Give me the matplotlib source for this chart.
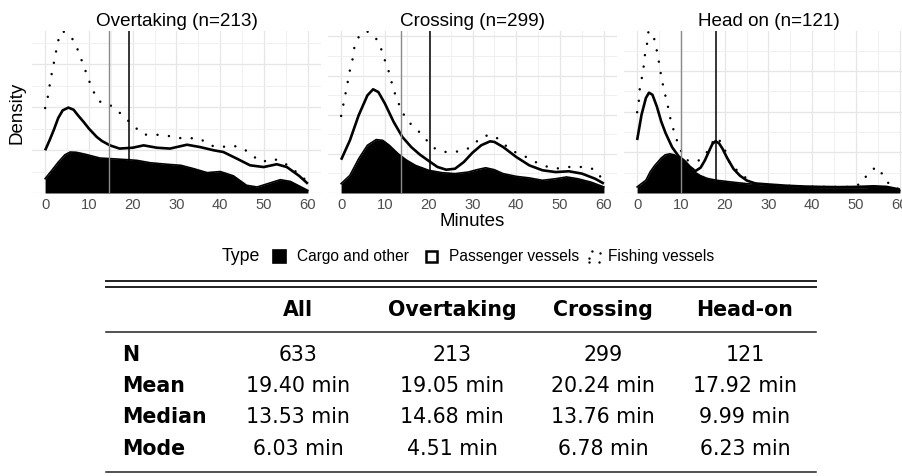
import numpy as np
import matplotlib
matplotlib.use("Agg")
import matplotlib.pyplot as plt
from matplotlib.patches import Rectangle

# ---------------- data (stacked density tops, arbitrary grid units) ----------------
panel_titles = ["Overtaking (n=213)", "Crossing (n=299)", "Head on (n=121)"]
x_ticks = [0, 10, 20, 30, 40, 50, 60]

# Overtaking
ot_cargo_x = [0, 1.5, 3, 4.5, 5.7, 7, 8, 9.5, 12.5, 15, 19, 21, 24, 27.8, 31, 34, 37, 40, 43, 46, 48.4, 50.6, 53.7, 56, 60]
ot_cargo_y = [0.67, 1.05, 1.44, 1.78, 1.91, 1.90, 1.86, 1.79, 1.63, 1.60, 1.55, 1.52, 1.41, 1.34, 1.29, 1.13, 0.95, 1.00, 0.80, 0.36, 0.28, 0.42, 0.62, 0.54, 0.12]
ot_pass_x = [0, 1, 2, 3, 4, 5.3, 6.5, 7.5, 8.8, 10, 11.8, 13, 14.8, 17, 20, 22.5, 25.5, 28.5, 32.4, 35.4, 38.5, 40.7, 43.8, 46.8, 49.9, 52.9, 55.2, 58, 60]
ot_pass_y = [1.99, 2.45, 2.95, 3.50, 3.85, 3.98, 3.88, 3.62, 3.31, 3.00, 2.61, 2.42, 2.22, 2.07, 2.11, 2.22, 2.11, 2.07, 2.25, 2.14, 1.99, 1.91, 1.60, 1.29, 1.21, 1.34, 1.21, 0.80, 0.43]
ot_fish_x = [0, 0.6, 1, 1.5, 2, 2.5, 3, 4, 6, 7.3, 8.2, 9.1, 10, 11, 12.3, 14.5, 16.7, 18.7, 20.5, 22.5, 25, 27.5, 30.3, 32.8, 35.4, 37.6, 40, 42.7, 45.3, 47.5, 49.6, 51.7, 54, 56.4, 58.5, 60]
ot_fish_y = [3.96, 4.47, 4.98, 5.56, 6.07, 6.60, 7.11, 7.55, 7.27, 6.75, 6.26, 5.76, 5.25, 4.74, 4.27, 4.15, 3.80, 3.42, 3.07, 2.72, 2.72, 2.69, 2.56, 2.56, 2.53, 2.22, 2.13, 2.22, 2.07, 1.71, 1.44, 1.60, 1.49, 1.13, 0.80, 0.50]

# Crossing
cr_cargo_x = [0, 2, 4, 6, 8, 9.5, 11, 13, 15, 17, 20, 23, 26, 29, 31, 33, 35, 37, 40, 43, 46, 49, 51.5, 54, 57, 60]
cr_cargo_y = [0.48, 0.90, 1.75, 2.44, 2.73, 2.69, 2.44, 2.01, 1.67, 1.41, 1.16, 1.04, 0.99, 1.07, 1.19, 1.29, 1.19, 0.99, 0.85, 0.77, 0.65, 0.73, 0.82, 0.73, 0.56, 0.31]
cr_pass_x = [0, 2, 4, 6, 7.3, 8.5, 10, 12, 14, 16, 18, 20, 22, 24, 26, 28, 30, 32, 34, 35, 37, 40, 43, 46, 49, 52, 55, 58, 60]
cr_pass_y = [1.70, 2.69, 3.97, 4.99, 5.30, 5.16, 4.57, 3.63, 2.86, 2.35, 1.96, 1.64, 1.33, 1.19, 1.24, 1.58, 2.06, 2.44, 2.64, 2.61, 2.35, 1.84, 1.41, 1.16, 1.07, 1.11, 0.99, 0.73, 0.48]
cr_fish_x = [0, 0.5, 1, 1.5, 2, 2.6, 3, 4, 5.8, 7.8, 9, 9.8, 10.7, 11.4, 12.1, 13, 14, 15.6, 17.5, 19.2, 21, 23.3, 26, 28.6, 30.6, 32.7, 35, 37, 39.3, 41.5, 44, 46.5, 49, 51.3, 53.5, 56, 58, 60]
cr_fish_y = [3.94, 4.51, 5.08, 5.67, 6.27, 6.83, 7.41, 7.97, 8.28, 7.97, 7.46, 6.90, 6.35, 5.76, 5.20, 4.65, 4.11, 3.59, 3.20, 2.78, 2.32, 2.10, 2.10, 2.21, 2.57, 2.93, 2.93, 2.52, 2.13, 1.93, 1.62, 1.38, 1.24, 1.33, 1.33, 1.33, 1.19, 0.60]

# Head on
ho_cargo_x = [0, 2, 3, 4, 5.5, 6.4, 7.5, 8.5, 9.8, 11, 12.1, 13, 14.4, 16, 18, 20, 22, 25, 28, 32, 36, 40, 44, 48, 52, 55, 58, 60]
ho_cargo_y = [0.30, 0.63, 1.05, 1.35, 1.72, 1.88, 1.93, 1.88, 1.69, 1.45, 1.22, 1.05, 0.86, 0.72, 0.63, 0.58, 0.53, 0.46, 0.41, 0.36, 0.31, 0.27, 0.25, 0.25, 0.26, 0.30, 0.25, 0.13]
ho_pass_x = [0, 1, 2, 2.7, 3.5, 4.5, 5.5, 6.5, 8, 9.5, 10.7, 12, 13.3, 14.5, 15.5, 16.5, 17.2, 17.9, 18.7, 19.5, 20.5, 22, 23.5, 25.1, 27, 30, 34, 38, 42, 46, 50, 54, 57, 60]
ho_pass_y = [2.61, 3.85, 4.68, 4.94, 4.84, 4.26, 3.52, 2.95, 2.25, 1.80, 1.60, 1.30, 1.08, 1.25, 1.62, 2.10, 2.42, 2.55, 2.45, 2.18, 1.75, 1.19, 0.85, 0.61, 0.47, 0.42, 0.36, 0.32, 0.30, 0.29, 0.30, 0.33, 0.30, 0.17]
ho_fish_x = [0, 0.4, 0.6, 1.1, 1.5, 1.8, 2.3, 2.6, 3.8, 4.4, 4.9, 5.3, 5.8, 6.4, 7, 7.5, 8.2, 9, 10, 11.6, 13.9, 15.9, 17.9, 19.5, 21.3, 23.3, 25.4, 27, 30, 35, 40, 45, 49, 51.2, 52.6, 54.6, 56.2, 57.7, 60]
ho_fish_y = [3.98, 4.55, 5.12, 5.70, 6.25, 6.83, 7.40, 7.98, 7.69, 7.12, 6.55, 6.00, 5.42, 4.84, 4.30, 3.74, 3.19, 2.64, 2.08, 1.59, 1.57, 2.00, 2.75, 2.45, 1.37, 1.04, 0.63, 0.47, 0.42, 0.35, 0.31, 0.30, 0.30, 0.46, 0.93, 1.29, 0.88, 0.38, 0.17]

medians = [14.68, 13.76, 9.99]
means = [19.05, 20.24, 17.92]

legend_title = "Type"
legend_labels = ["Cargo and other", "Passenger vessels", "Fishing vessels"]

# table
table_cols = ["All", "Overtaking", "Crossing", "Head-on"]
table_rows = ["N", "Mean", "Median", "Mode"]
tab_n = ["633", "213", "299", "121"]
tab_mean = ["19.40 min", "19.05 min", "20.24 min", "17.92 min"]
tab_median = ["13.53 min", "14.68 min", "13.76 min", "9.99 min"]
tab_mode = ["6.03 min", "4.51 min", "6.78 min", "6.23 min"]

panels = [
    (ot_cargo_x, ot_cargo_y, ot_pass_x, ot_pass_y, ot_fish_x, ot_fish_y),
    (cr_cargo_x, cr_cargo_y, cr_pass_x, cr_pass_y, cr_fish_x, cr_fish_y),
    (ho_cargo_x, ho_cargo_y, ho_pass_x, ho_pass_y, ho_fish_x, ho_fish_y),
]

# ---------------- figure ----------------
W, H = 903, 477
fig = plt.figure(figsize=(W / 100, H / 100), dpi=100)
plt.rcParams['font.family'] = ['Liberation Sans', 'DejaVu Sans']

def fx(px):
    return px / W

def fy(py):
    return 1 - py / H

panel_lefts = [32, 328, 624]
panel_w = 289
ptop, pbot = 32, 194

for i, (cx, cy, px_, py_, fx_, fy_) in enumerate(panels):
    ax = fig.add_axes([fx(panel_lefts[i]), fy(pbot), panel_w / W, (pbot - ptop) / H])
    ymax = max(fy_)
    ax.set_xlim(-3, 63)
    ax.set_ylim(0, ymax)
    ax.set_xticks(x_ticks)
    ax.set_xticks([5, 15, 25, 35, 45, 55], minor=True)
    ax.set_yticks(np.arange(0, ymax + 0.01, 2))
    ax.set_yticks(np.arange(1, ymax + 0.01, 2), minor=True)
    ax.grid(which='major', color='#e6e6e6', lw=0.9)
    ax.grid(which='minor', color='#eeeeee', lw=0.6)
    ax.set_axisbelow(True)
    for s in ax.spines.values():
        s.set_visible(False)
    ax.tick_params(which='both', length=0)
    ax.tick_params(axis='x', labelsize=10.6, labelcolor='#4d4d4d', pad=3)
    ax.set_yticklabels([])
    ax.fill_between(cx, 0, cy, color='black', lw=0, zorder=2)
    ax.plot(cx, cy, color='black', lw=1.2, zorder=2)
    ax.plot(px_, py_, color='black', lw=1.9, zorder=3, solid_capstyle='butt', solid_joinstyle='round')
    ax.plot(fx_, fy_, color='black', lw=1.8, linestyle=(0, (0.01, 4.6)),
            dash_capstyle='round', zorder=3)
    ax.axvline(medians[i], color='#8a8a8a', lw=1.0, zorder=4)
    ax.axvline(means[i], color='black', lw=1.1, zorder=4)
    ax.set_title(panel_titles[i], fontsize=13.6, pad=4)

fig.text(fx(17), fy(113), "Density", rotation=90, fontsize=13.5, ha='center', va='center')
fig.text(fx(472), fy(222), "Minutes", fontsize=13.5, ha='center', va='center')

# ---------------- legend (manual) ----------------
ly = 257
lfs = 11.2
fig.text(fx(222), fy(ly), legend_title, fontsize=12.8, ha='left', va='center')
sq = 13
fig.patches.append(Rectangle((fx(273), fy(ly + sq / 2)), sq / W, sq / H, transform=fig.transFigure,
                             facecolor='black', edgecolor='black', lw=1.2))
fig.text(fx(297), fy(ly), legend_labels[0], fontsize=lfs, ha='left', va='center')
fig.patches.append(Rectangle((fx(426), fy(ly + sq / 2 - 1)), (sq - 2) / W, (sq - 2) / H, transform=fig.transFigure,
                             facecolor='white', edgecolor='black', lw=1.8))
fig.text(fx(449), fy(ly), legend_labels[1], fontsize=lfs, ha='left', va='center')
fig.patches.append(Rectangle((fx(589), fy(ly + sq / 2 - 1)), (sq - 2) / W, (sq - 2) / H, transform=fig.transFigure,
                             facecolor='none', edgecolor='black', lw=1.8, linestyle=(0, (0.01, 4.0)),
                             capstyle='round'))
fig.text(fx(608), fy(ly), legend_labels[2], fontsize=lfs, ha='left', va='center')

# ---------------- table ----------------
tfont = ['DejaVu Sans']
tsize = 14.8
xl, xr = 106, 816
for yy, lw in [(281.7, 1.4), (287.7, 1.4), (332.7, 1.1), (472.7, 1.1)]:
    fig.add_artist(plt.Line2D([fx(xl), fx(xr)], [fy(yy), fy(yy)], transform=fig.transFigure,
                              color='#222222', lw=lw))
col_x = [298, 452, 603, 745]
for c, name in enumerate(table_cols):
    fig.text(fx(col_x[c]), fy(310), name, fontsize=tsize, fontweight='bold', family=tfont,
             ha='center', va='center')
row_y = [355, 386, 417, 449]
row_vals = [tab_n, tab_mean, tab_median, tab_mode]
for r, lab in enumerate(table_rows):
    fig.text(fx(122), fy(row_y[r]), lab, fontsize=tsize, fontweight='bold', family=tfont,
             ha='left', va='center')
    for c in range(4):
        fig.text(fx(col_x[c]), fy(row_y[r]), row_vals[r][c], fontsize=tsize, family=tfont,
                 ha='center', va='center')

fig.savefig("out.png", dpi=100)
